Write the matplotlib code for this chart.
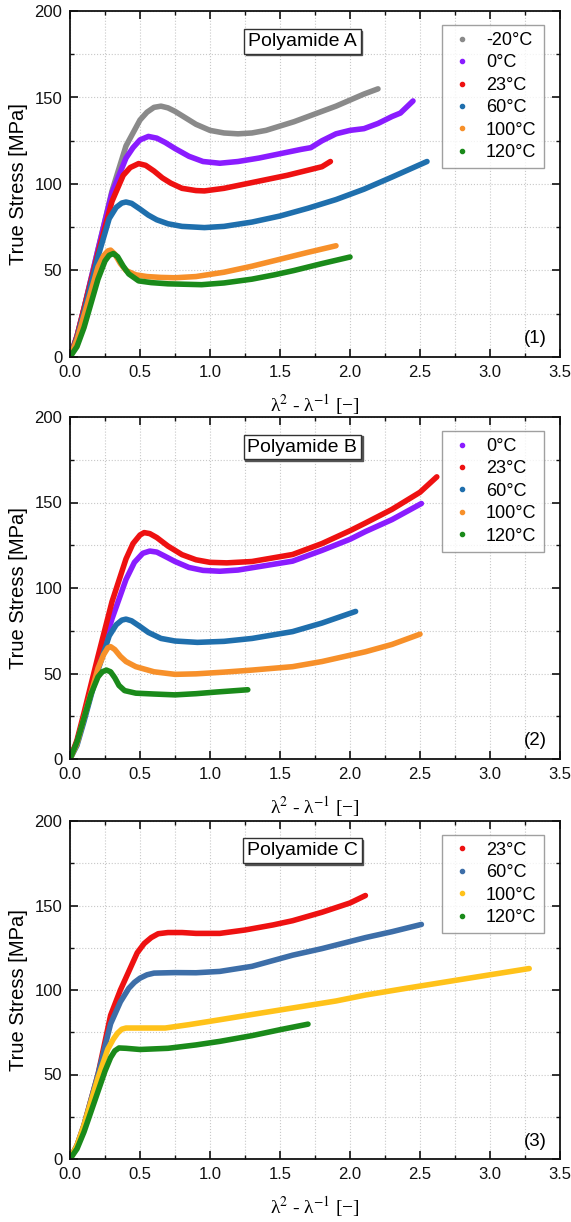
import matplotlib
matplotlib.use("Agg")
import matplotlib.pyplot as plt
import matplotlib.transforms as mtransforms
from matplotlib.ticker import MultipleLocator

plt.rcParams['font.family'] = ['Liberation Sans', 'DejaVu Sans']
plt.rcParams['mathtext.fontset'] = 'stix'

# colours
GRAY = '#8a8a8a'
PURPLE = '#8a1cff'
RED = '#ee1111'
BLUE = '#1f6fad'
ORANGE = '#f7902a'
GREEN = '#1a8a1a'
STEEL = '#3d6ea8'
YELLOW = '#ffc21a'

# ---- Polyamide A ----
a_m20_x = [0.0, 0.05, 0.1, 0.2, 0.3, 0.4, 0.5, 0.55, 0.6, 0.65, 0.7, 0.75, 0.8, 0.9, 1.0, 1.1, 1.2, 1.3, 1.4, 1.5, 1.6, 1.7, 1.8, 1.9, 2.0, 2.1, 2.2]
a_m20_y = [0.0, 12, 28, 62, 96, 122, 137, 141.5, 144.3, 145, 144, 142, 139.5, 134.5, 131, 129.5, 129, 129.5, 131, 133.5, 136, 139, 142, 145, 148.5, 152, 155]
a_0_x = [0.0, 0.05, 0.1, 0.2, 0.3, 0.4, 0.45, 0.5, 0.56, 0.62, 0.68, 0.75, 0.85, 0.95, 1.07, 1.2, 1.35, 1.5, 1.65, 1.72, 1.8, 1.9, 2.0, 2.1, 2.2, 2.3, 2.36, 2.45]
a_0_y = [0.0, 12, 28, 62, 95, 115, 121, 125.5, 127.5, 126.5, 124, 120.5, 116, 113, 112, 113, 115, 117.5, 120, 121, 125, 129, 131, 132, 135, 139, 141, 148]
a_23_x = [0.0, 0.05, 0.1, 0.2, 0.3, 0.38, 0.43, 0.49, 0.54, 0.6, 0.66, 0.72, 0.8, 0.9, 0.96, 1.1, 1.25, 1.4, 1.55, 1.7, 1.8, 1.86]
a_23_y = [0.0, 12, 28, 60, 90, 105, 109.5, 111.8, 110.8, 107.5, 103.5, 100.5, 97.5, 96.2, 96, 97.5, 100, 102.5, 105, 108, 110, 113]
a_60_x = [0.0, 0.05, 0.1, 0.2, 0.28, 0.33, 0.37, 0.4, 0.44, 0.5, 0.56, 0.62, 0.7, 0.8, 0.96, 1.1, 1.3, 1.5, 1.7, 1.9, 2.1, 2.3, 2.55]
a_60_y = [0.0, 11, 26, 58, 80, 86.5, 89, 89.6, 88.8, 85.5, 82, 79.3, 77, 75.5, 74.8, 75.5, 78, 81.5, 86, 91, 97, 104, 113]
a_100_x = [0.0, 0.05, 0.1, 0.2, 0.24, 0.27, 0.29, 0.32, 0.36, 0.4, 0.47, 0.55, 0.65, 0.75, 0.9, 1.1, 1.3, 1.5, 1.7, 1.9]
a_100_y = [0.0, 10, 24, 52, 58.5, 61.3, 61.8, 59.5, 54, 50, 47.5, 46.5, 46, 45.8, 46.5, 49, 52.5, 56.5, 60.5, 64.3]
a_120_x = [0.0, 0.05, 0.1, 0.2, 0.25, 0.28, 0.31, 0.34, 0.38, 0.42, 0.49, 0.58, 0.7, 0.94, 1.1, 1.3, 1.46, 1.6, 1.8, 2.0]
a_120_y = [0.0, 6, 17, 45, 55.5, 58.8, 59.8, 58, 52.5, 48, 44, 43, 42.3, 41.8, 42.8, 45, 47.5, 50, 54, 57.8]

# ---- Polyamide B ----
b_0_x = [0.0, 0.05, 0.1, 0.2, 0.3, 0.4, 0.46, 0.52, 0.57, 0.62, 0.68, 0.75, 0.85, 0.95, 1.07, 1.2, 1.35, 1.59, 1.8, 2.0, 2.11, 2.3, 2.51]
b_0_y = [0.0, 10, 25, 55, 82, 105, 115, 120.3, 121.6, 121, 118.5, 115.5, 112, 110.3, 109.8, 110.5, 112.5, 115.7, 122, 128.5, 133, 140, 149.4]
b_23_x = [0.0, 0.05, 0.1, 0.2, 0.3, 0.4, 0.45, 0.5, 0.53, 0.57, 0.62, 0.7, 0.8, 0.9, 1.0, 1.12, 1.3, 1.59, 1.8, 2.0, 2.11, 2.3, 2.5, 2.62]
b_23_y = [0.0, 11, 27, 60, 92, 117, 126, 131, 132.4, 131.8, 129.5, 124.5, 119.5, 116.5, 115, 114.7, 115.5, 119.6, 126, 133.5, 138, 146, 156, 165]
b_60_x = [0.0, 0.05, 0.1, 0.2, 0.28, 0.33, 0.37, 0.4, 0.44, 0.5, 0.56, 0.65, 0.75, 0.91, 1.1, 1.3, 1.59, 1.8, 2.04]
b_60_y = [0.0, 8, 22, 52, 72, 78.5, 81.2, 81.8, 80.8, 77.5, 74, 70.5, 69, 68.2, 68.8, 70.5, 74.5, 79.5, 86.3]
b_100_x = [0.0, 0.05, 0.1, 0.2, 0.24, 0.27, 0.29, 0.32, 0.36, 0.4, 0.47, 0.6, 0.75, 0.9, 1.1, 1.3, 1.59, 1.8, 2.11, 2.3, 2.5]
b_100_y = [0.0, 9, 24, 53, 61, 65, 65.7, 64, 60, 57, 54, 51, 49.5, 49.8, 50.8, 52, 54, 57, 62.7, 67, 73]
b_120_x = [0.0, 0.05, 0.1, 0.15, 0.2, 0.23, 0.26, 0.29, 0.32, 0.35, 0.39, 0.47, 0.6, 0.75, 0.9, 1.05, 1.27]
b_120_y = [0.0, 10, 24, 38, 48, 51, 52, 51, 47.5, 43, 40, 38.5, 38, 37.5, 38.2, 39.2, 40.5]

# ---- Polyamide C ----
c_23_x = [0.0, 0.05, 0.1, 0.2, 0.29, 0.36, 0.42, 0.48, 0.53, 0.58, 0.63, 0.7, 0.8, 0.9, 1.07, 1.25, 1.45, 1.59, 1.8, 2.0, 2.11]
c_23_y = [0.0, 8, 20, 50, 85, 100, 111, 122, 127.5, 131, 133.3, 134, 134, 133.5, 133.5, 135.5, 138.5, 141, 146, 151.5, 155.9]
c_60_x = [0.0, 0.05, 0.1, 0.2, 0.29, 0.36, 0.42, 0.46, 0.5, 0.55, 0.6, 0.75, 0.9, 1.07, 1.3, 1.59, 1.8, 2.11, 2.3, 2.51]
c_60_y = [0.0, 8, 20, 50, 80, 93, 101, 104.5, 107, 109, 110, 110.3, 110.2, 111, 114, 120.6, 124.5, 131, 134.5, 138.8]
c_100_x = [0.0, 0.05, 0.1, 0.2, 0.27, 0.31, 0.34, 0.37, 0.4, 0.5, 0.68, 0.85, 1.07, 1.3, 1.6, 1.9, 2.11, 2.4, 2.7, 3.0, 3.28]
c_100_y = [0.0, 8, 20, 48, 65, 71, 74.5, 76.8, 77.5, 77.5, 77.5, 79.5, 82.4, 85.5, 89.5, 93.5, 97, 101, 105, 109, 112.7]
c_120_x = [0.0, 0.05, 0.1, 0.2, 0.25, 0.29, 0.32, 0.35, 0.4, 0.5, 0.7, 0.9, 1.07, 1.3, 1.5, 1.7]
c_120_y = [0.0, 6, 16, 40, 52, 60, 64, 65.7, 65.5, 64.8, 65.5, 67.5, 69.6, 73, 76.5, 79.8]

panels = [
    ('Polyamide A', '(1)', [
        ('-20°C', a_m20_x, a_m20_y, GRAY),
        ('0°C', a_0_x, a_0_y, PURPLE),
        ('23°C', a_23_x, a_23_y, RED),
        ('60°C', a_60_x, a_60_y, BLUE),
        ('100°C', a_100_x, a_100_y, ORANGE),
        ('120°C', a_120_x, a_120_y, GREEN),
    ]),
    ('Polyamide B', '(2)', [
        ('0°C', b_0_x, b_0_y, PURPLE),
        ('23°C', b_23_x, b_23_y, RED),
        ('60°C', b_60_x, b_60_y, BLUE),
        ('100°C', b_100_x, b_100_y, ORANGE),
        ('120°C', b_120_x, b_120_y, GREEN),
    ]),
    ('Polyamide C', '(3)', [
        ('23°C', c_23_x, c_23_y, RED),
        ('60°C', c_60_x, c_60_y, STEEL),
        ('100°C', c_100_x, c_100_y, YELLOW),
        ('120°C', c_120_x, c_120_y, GREEN),
    ]),
]

fig = plt.figure(figsize=(5.71, 12.22), dpi=100)
W, H = 571.0, 1222.0
# axes boxes in pixels (top, bottom); left 70, right 560
boxes = [(11, 357), (417, 759), (821, 1159)]
LEFT, RIGHT = 70, 560

for k, (name, tag, series) in enumerate(panels):
    top, bot = boxes[k]
    ax = fig.add_axes([LEFT / W, 1 - bot / H, (RIGHT - LEFT) / W, (bot - top) / H])
    for lab, xs, ys, col in series:
        ax.plot(xs, ys, '-', color=col, lw=4.0, solid_capstyle='round',
                solid_joinstyle='round')
        ax.plot([], [], 'o', color=col, ms=3, label=lab)
    ax.set_xlim(0, 3.5)
    ax.set_ylim(0, 200)
    ax.xaxis.set_minor_locator(MultipleLocator(0.25))
    ax.yaxis.set_major_locator(MultipleLocator(50))
    ax.yaxis.set_minor_locator(MultipleLocator(25))
    ax.set_xticks([0, 0.5, 1, 1.5, 2, 2.5, 3, 3.5])
    ax.set_xticklabels(['0.0', '0.5', '1.0', '1.5', '2.0', '2.5', '3.0', '3.5'])
    ax.grid(True, which='both', ls=':', color='#c8c8c8', lw=0.8)
    ax.tick_params(which='both', direction='in', top=True, right=True,
                   labelsize=12, colors='#111111', pad=5.5)
    ax.tick_params(which='major', length=6, width=1.2)
    ax.tick_params(which='minor', length=3, width=1.0)
    for s in ax.spines.values():
        s.set_linewidth(1.3)
        s.set_color('#111111')
    ax.set_ylabel('True Stress [MPa]', fontsize=14.5, labelpad=5)
    ax.set_xlabel('λ$^{2}$ - λ$^{-1}$ [−]', fontsize=14,
                  labelpad=9, family='Liberation Serif')

    # title box with a small drop shadow
    shadow = mtransforms.offset_copy(ax.transData, fig=fig, x=1.6, y=-1.6,
                                     units='dots')
    ax.text(1.66, 182.4, name, fontsize=14, ha='center', va='center',
            color='#555555', transform=shadow, zorder=4,
            bbox=dict(boxstyle='square,pad=0.2', fc='#555555', ec='#555555',
                      lw=1.0))
    ax.text(1.66, 182.4, name, fontsize=14, ha='center', va='center',
            zorder=5,
            bbox=dict(boxstyle='square,pad=0.2', fc='white', ec='#333333',
                      lw=1.0))
    ax.text(0.973, 0.028, tag, transform=ax.transAxes, fontsize=13.5,
            ha='right', va='bottom')
    leg = ax.legend(loc='upper right', bbox_to_anchor=(0.967, 0.96),
                    fontsize=13, frameon=True, fancybox=False,
                    handlelength=1.4, handletextpad=0.65, labelspacing=0.3,
                    borderpad=0.4, borderaxespad=0.0)
    leg.get_frame().set_edgecolor('#888888')
    leg.get_frame().set_linewidth(1.0)

fig.savefig('out.png', dpi=100)
